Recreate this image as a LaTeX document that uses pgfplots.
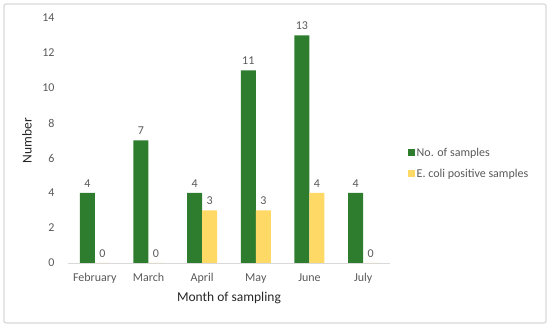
\documentclass[border=0pt]{standalone}
\usepackage{pgfplots}
\pgfplotsset{compat=1.18}
\usepackage{fontspec}
\setmainfont{Carlito}
\definecolor{cgreen}{HTML}{2E7D2E}
\definecolor{cyellow}{HTML}{FFD966}
\definecolor{ctext}{HTML}{595959}
\definecolor{cframe}{HTML}{D9D9D9}
\begin{document}
\begin{tikzpicture}
\path[use as bounding box] (0pt,0pt) rectangle (550pt,327pt);
\draw[cframe, line width=1.2pt, rounded corners=2pt] (4pt,4pt) rectangle (546pt,323pt);
\begin{axis}[
  at={(68pt,64pt)}, anchor=south west,
  scale only axis, width=322pt, height=245pt,
  ybar=0pt, bar width=15pt,
  xmin=-0.5, xmax=5.5, ymin=0, ymax=14,
  xtick=data,
  xticklabels={February,March,April,May,June,July},
  ytick={0,2,...,14},
  axis x line*=bottom,
  axis y line*=left,
  x axis line style={cframe, line width=0.8pt, -},
  y axis line style={draw=none},
  major tick length=0pt,
  tick label style={font=\fontsize{12}{14}\selectfont, text=ctext},
  /pgf/number format/assume math mode=true,
  xlabel={Month of sampling},
  ylabel={Number},
  label style={font=\fontsize{13.5}{16}\selectfont, text=black!85},
  xlabel style={at={(axis description cs:0.5,0)}, anchor=center, yshift=-35pt},
  ylabel style={at={(axis description cs:-0.127,0.5)}, anchor=center},
  xticklabel style={yshift=-7pt},
  yticklabel style={xshift=-10pt},
  nodes near coords,
  nodes near coords style={font=\fontsize{12}{14}\selectfont, text=ctext, yshift=2pt},
  legend style={draw=none, at={(1.045,0.406)}, anchor=west, font=\fontsize{12}{14}\selectfont, text=ctext, row sep=7pt, fill=none},
  legend cell align=left,
  legend image code/.code={\fill[#1] (0pt,-3pt) rectangle (7pt,4pt);},
  clip=false,
]
\addplot[fill=cgreen, draw=none] coordinates {(0,4) (1,7) (2,4) (3,11) (4,13) (5,4)};
\addplot[fill=cyellow, draw=none] coordinates {(0,0) (1,0) (2,3) (3,3) (4,4) (5,0)};
\legend{No. of samples, E. coli positive samples}
\end{axis}
\end{tikzpicture}
\end{document}
